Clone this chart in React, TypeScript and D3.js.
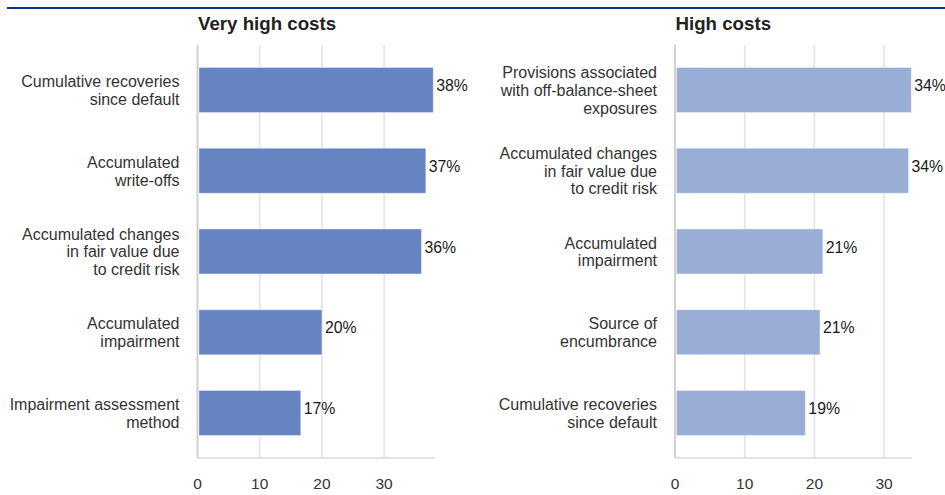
import React from 'react';
import * as d3 from 'd3';

const leftTitle = "Very high costs";
const leftCategories = [
  "Cumulative recoveries\nsince default",
  "Accumulated\nwrite-offs",
  "Accumulated changes\nin fair value due\nto credit risk",
  "Accumulated\nimpairment",
  "Impairment assessment\nmethod",
];
const leftValues = [37.9, 36.7, 36.0, 20.0, 16.6];
const leftLabels = ["38%", "37%", "36%", "20%", "17%"];

const rightTitle = "High costs";
const rightCategories = [
  "Provisions associated\nwith off-balance-sheet\nexposures",
  "Accumulated changes\nin fair value due\nto credit risk",
  "Accumulated\nimpairment",
  "Source of\nencumbrance",
  "Cumulative recoveries\nsince default",
];
const rightValues = [33.9, 33.5, 21.2, 20.8, 18.7];
const rightLabels = ["34%", "34%", "21%", "21%", "19%"];

const xTicks = [0, 10, 20, 30];

const FONT = "'Liberation Sans', Arial, Helvetica, sans-serif";

type PanelProps = {
  title: string;
  categories: string[];
  values: number[];
  labels: string[];
  x0: number;
  x1: number;
  max: number;
  color: string;
};

function Panel({ title, categories, values, labels, x0, x1, max, color }: PanelProps) {
  const top = 45;
  const bottom = 458;
  const x = d3.scaleLinear().domain([0, max]).range([x0, x1]);
  const y = d3
    .scaleBand<string>()
    .domain(categories)
    .range([top, bottom])
    .paddingInner(0.443)
    .paddingOuter(0.279);
  const lineH = 17.8;
  return (
    <g>
      <text x={x0 + 0.5} y={29.5} fontFamily={FONT} fontWeight="bold" fontSize={18.7} fill="#222">
        {title}
      </text>
      {xTicks.filter((t) => t > 0).map((t) => (
        <line key={"g" + t} x1={x(t)} x2={x(t)} y1={top} y2={bottom} stroke="#e4e4e4" strokeWidth={1.6} />
      ))}
      <line x1={x0} x2={x1} y1={bottom} y2={bottom} stroke="#d9d9d9" strokeWidth={1.6} />
      <line x1={x0} x2={x0} y1={top} y2={bottom} stroke="#d0d0d0" strokeWidth={2} />
      {categories.map((c, i) => {
        const by = y(c)!;
        const bw = y.bandwidth();
        const cy = by + bw / 2;
        const lines = c.split("\n");
        const startY = cy - ((lines.length - 1) * lineH) / 2;
        return (
          <g key={c}>
            <rect x={x(0) + 1.5} y={by} width={x(values[i]) - x(0) - 1.5} height={bw} fill={color} stroke="#ffffff" strokeOpacity={0.35} strokeWidth={1} />
            <text x={x(values[i]) + 3} y={cy - 4.5} dy="0.35em" fontFamily={FONT} fontSize={15.8} fill="#1a1a1a">
              {labels[i]}
            </text>
            <text textAnchor="end" fontFamily={FONT} fontSize={16} fill="#333">
              {lines.map((l, j) => (
                <tspan key={j} x={x0 - 18} y={startY + j * lineH} dy="0.37em">
                  {l}
                </tspan>
              ))}
            </text>
          </g>
        );
      })}
      {xTicks.map((t) => (
        <text key={"t" + t} x={x(t)} y={489} textAnchor="middle" fontFamily={FONT} fontSize={15.5} fill="#333">
          {t}
        </text>
      ))}
    </g>
  );
}

export default function App() {
  return (
    <svg
      width={945}
      height={495}
      style={{ position: "absolute", left: 0, top: 0, background: "#fff" }}
    >
      <rect x={0} y={0} width={945} height={495} fill="#fff" />
      <line x1={7} x2={945} y1={8} y2={8} stroke="#0a3395" strokeWidth={2.2} />
      <Panel
        title={leftTitle}
        categories={leftCategories}
        values={leftValues}
        labels={leftLabels}
        x0={197.5}
        x1={434.5}
        max={38.1}
        color="#6684c2"
      />
      <Panel
        title={rightTitle}
        categories={rightCategories}
        values={rightValues}
        labels={rightLabels}
        x0={675}
        x1={912}
        max={34.0}
        color="#99aed7"
      />
    </svg>
  );
}
